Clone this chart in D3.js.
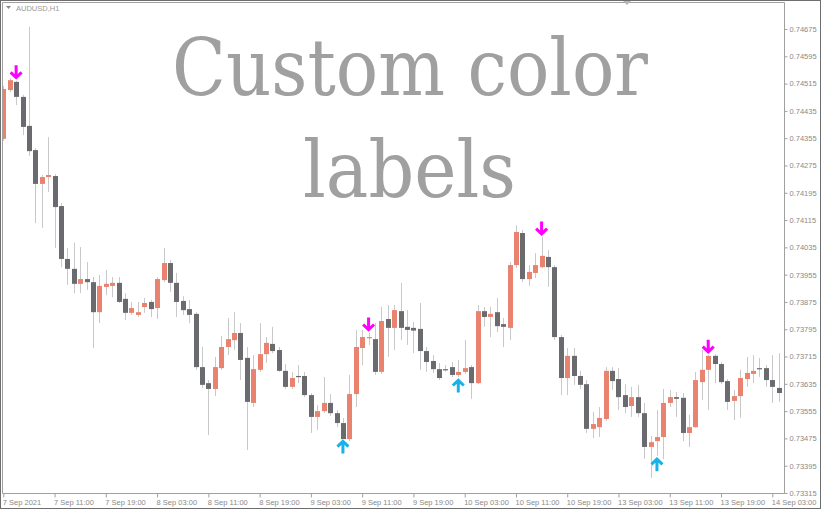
<!DOCTYPE html>
<html><head><meta charset="utf-8">
<script src="https://cdn.jsdelivr.net/npm/d3@7"></script>
<style>body{margin:0;background:#fff}svg{display:block}</style>
</head><body><svg id="c" width="821" height="509"></svg>
<script>
const symbol = "AUDUSD,H1";
const titleLines = ["Custom color", "labels"];
const xTickIndex = [0,8,16,24,32,40,48,56,64,72,80,88,96,104,112,120];
const xTickLabels = ["7 Sep 2021","7 Sep 11:00","7 Sep 19:00","8 Sep 03:00","8 Sep 11:00","8 Sep 19:00","9 Sep 03:00","9 Sep 11:00","9 Sep 19:00","10 Sep 03:00","10 Sep 11:00","10 Sep 19:00","13 Sep 03:00","13 Sep 11:00","13 Sep 19:00","14 Sep 03:00"];
const yTicks = [0.74675,0.74595,0.74515,0.74435,0.74355,0.74275,0.74195,0.74115,0.74035,0.73955,0.73875,0.73795,0.73715,0.73635,0.73555,0.73475,0.73395,0.73315];

const open = [0.74353,0.74496,0.74520,0.74476,0.74391,0.74320,0.74221,0.74241,0.74244,0.74156,
0.74001,0.73972,0.73928,0.73942,0.73933,0.73845,0.73919,0.73922,0.73931,0.73884,
0.73843,0.73837,0.73860,0.73875,0.73857,0.73939,0.73989,0.73931,0.73878,0.73854,
0.73840,0.73684,0.73637,0.73620,0.73681,0.73743,0.73763,0.73784,0.73711,0.73579,
0.73676,0.73722,0.73752,0.73734,0.73673,0.73626,0.73658,0.73658,0.73602,0.73538,
0.73555,0.73579,0.73549,0.73520,0.73473,0.73605,0.73740,0.73769,0.73766,0.73670,
0.73825,0.73799,0.73848,0.73802,0.73799,0.73796,0.73731,0.73702,0.73678,0.73678,
0.73684,0.73661,0.73670,0.73684,0.73637,0.73848,0.73831,0.73845,0.73810,0.73799,
0.73983,0.74077,0.73942,0.73960,0.73977,0.74007,0.73977,0.73772,0.73652,0.73717,
0.73658,0.73634,0.73503,0.73508,0.73532,0.73673,0.73649,0.73602,0.73570,0.73596,
0.73549,0.73450,0.73467,0.73479,0.73579,0.73596,0.73594,0.73491,0.73508,0.73640,
0.73676,0.73717,0.73693,0.73643,0.73585,0.73599,0.73649,0.73664,0.73681,0.73681,
0.73646,0.73623];
const high = [0.74508,0.74531,0.74523,0.74482,0.74681,0.74326,0.74247,0.74358,0.74250,0.74165,
0.74033,0.74048,0.74036,0.73992,0.73948,0.73954,0.73969,0.73948,0.73948,0.73901,
0.73875,0.73875,0.73887,0.73881,0.73948,0.74033,0.73998,0.73960,0.73892,0.73881,
0.73845,0.73743,0.73646,0.73714,0.73775,0.73828,0.73845,0.73813,0.73743,0.73719,
0.73813,0.73772,0.73802,0.73743,0.73693,0.73670,0.73690,0.73670,0.73608,0.73573,
0.73655,0.73605,0.73558,0.73535,0.73661,0.73793,0.73793,0.73784,0.73813,0.73860,
0.73866,0.73866,0.73931,0.73851,0.73816,0.73872,0.73743,0.73719,0.73696,0.73690,
0.73699,0.73705,0.73763,0.73690,0.73866,0.73860,0.73860,0.73887,0.73828,0.73992,
0.74100,0.74086,0.73983,0.74018,0.74065,0.74027,0.73983,0.73778,0.73740,0.73740,
0.73673,0.73646,0.73552,0.73567,0.73684,0.73684,0.73681,0.73634,0.73626,0.73632,
0.73579,0.73482,0.73558,0.73620,0.73617,0.73611,0.73608,0.73544,0.73670,0.73734,
0.73719,0.73722,0.73699,0.73649,0.73617,0.73676,0.73714,0.73719,0.73711,0.73690,
0.73719,0.73725];
const low = [0.74347,0.74490,0.74452,0.74364,0.74303,0.74106,0.74092,0.74197,0.74033,0.73977,
0.73925,0.73901,0.73901,0.73910,0.73740,0.73813,0.73895,0.73889,0.73872,0.73822,
0.73837,0.73831,0.73843,0.73831,0.73825,0.73933,0.73904,0.73831,0.73837,0.73813,
0.73676,0.73623,0.73485,0.73599,0.73676,0.73719,0.73734,0.73646,0.73441,0.73567,
0.73670,0.73696,0.73725,0.73670,0.73620,0.73620,0.73637,0.73596,0.73491,0.73500,
0.73549,0.73541,0.73508,0.73476,0.73467,0.73567,0.73690,0.73749,0.73661,0.73664,
0.73714,0.73734,0.73763,0.73749,0.73725,0.73676,0.73670,0.73667,0.73646,0.73670,
0.73655,0.73655,0.73664,0.73591,0.73634,0.73802,0.73772,0.73787,0.73743,0.73763,
0.73974,0.73933,0.73922,0.73945,0.73974,0.73919,0.73763,0.73602,0.73602,0.73632,
0.73620,0.73491,0.73476,0.73479,0.73526,0.73617,0.73558,0.73549,0.73538,0.73538,
0.73415,0.73359,0.73424,0.73415,0.73567,0.73538,0.73467,0.73450,0.73506,0.73588,
0.73558,0.73637,0.73634,0.73558,0.73529,0.73535,0.73626,0.73637,0.73655,0.73626,
0.73579,0.73582];
const close = [0.74499,0.74525,0.74476,0.74388,0.74317,0.74221,0.74241,0.74247,0.74153,0.74001,
0.73972,0.73928,0.73942,0.73933,0.73845,0.73922,0.73928,0.73931,0.73875,0.73843,
0.73857,0.73845,0.73872,0.73854,0.73942,0.73989,0.73931,0.73875,0.73851,0.73837,
0.73684,0.73632,0.73620,0.73684,0.73743,0.73766,0.73784,0.73705,0.73582,0.73678,
0.73722,0.73755,0.73731,0.73673,0.73626,0.73652,0.73655,0.73602,0.73538,0.73555,
0.73579,0.73549,0.73520,0.73473,0.73605,0.73743,0.73772,0.73772,0.73670,0.73819,
0.73799,0.73851,0.73799,0.73793,0.73791,0.73731,0.73699,0.73678,0.73652,0.73676,
0.73661,0.73670,0.73681,0.73637,0.73848,0.73831,0.73840,0.73804,0.73802,0.73983,
0.74080,0.73942,0.73963,0.73983,0.74010,0.73977,0.73772,0.73652,0.73717,0.73658,
0.73632,0.73503,0.73517,0.73535,0.73673,0.73643,0.73596,0.73567,0.73596,0.73549,
0.73450,0.73464,0.73479,0.73579,0.73596,0.73591,0.73491,0.73508,0.73646,0.73676,
0.73717,0.73693,0.73640,0.73582,0.73599,0.73652,0.73667,0.73673,0.73678,0.73646,
0.73626,0.73608];
const downSignals = [2, 57, 84, 110];
const upSignals = [53, 71, 102];

const svg = d3.select("#c");
const plot = {left: 2, right: 784, top: 2.5, bottom: 493};
const x = d3.scaleLinear().domain([0, 121]).range([3.3, 778.7]);
const y = d3.scaleLinear().domain([0.73315, 0.74675]).range([493, 29]);
const BULL = "#e9826f", BEAR = "#696b6f", WICK = "#c9c9c9";

svg.append("rect").attr("x",0).attr("y",0).attr("width",821).attr("height",509).attr("fill","#fff");
svg.append("defs").append("clipPath").attr("id","pc").append("rect")
  .attr("x",plot.left+1).attr("y",plot.top).attr("width",plot.right-plot.left-1).attr("height",plot.bottom-plot.top);

// Title
const title = svg.append("g").attr("font-family","'DejaVu Serif', serif").attr("fill","#a0a0a0").attr("font-size",78);
title.append("text").attr("x",172).attr("y",95).attr("textLength",476).attr("lengthAdjust","spacingAndGlyphs").text(titleLines[0]);
title.append("text").attr("x",303).attr("y",197).attr("textLength",213).attr("lengthAdjust","spacingAndGlyphs").text(titleLines[1]);

const data = open.map((o,i)=>({i, o, h: high[i], l: low[i], c: close[i]}));
const g = svg.append("g").attr("clip-path","url(#pc)");
g.selectAll("line.w").data(data).join("line").attr("class","w")
  .attr("x1",d=>Math.round(x(d.i))+0.5).attr("x2",d=>Math.round(x(d.i))+0.5)
  .attr("y1",d=>y(d.h)).attr("y2",d=>y(d.l)).attr("stroke",WICK).attr("stroke-width",1);
g.selectAll("rect.b").data(data).join("rect").attr("class","b")
  .attr("x",d=>Math.round(x(d.i))-2).attr("width",5)
  .attr("y",d=>y(Math.max(d.o,d.c)))
  .attr("height",d=>Math.max(1.2, Math.abs(y(d.o)-y(d.c))))
  .attr("fill",d=>d.c>=d.o?BULL:BEAR);

// signal arrows
function arrowPath(cx, tip, dir){ // dir=1 down arrow (tip at bottom), -1 up
  const top = tip - dir*14;
  return `M${cx},${top}L${cx},${tip - dir*2}M${cx-5.5},${tip - dir*7}L${cx},${tip - dir*1.8}L${cx+5.5},${tip - dir*7}`;
}
svg.append("g").selectAll("path").data(downSignals).join("path")
  .attr("d",i=>arrowPath(x(i), y(high[i]) - 1.5, 1))
  .attr("fill","none").attr("stroke","#ff00ff").attr("stroke-width",3).attr("stroke-linejoin","miter");
svg.append("g").selectAll("path").data(upSignals).join("path")
  .attr("d",i=>arrowPath(x(i), y(low[i]) + 1.5, -1))
  .attr("fill","none").attr("stroke","#19b2e8").attr("stroke-width",3).attr("stroke-linejoin","miter");

// frame
svg.append("rect").attr("x",0.5).attr("y",0.5).attr("width",820).attr("height",508).attr("fill","none").attr("stroke","#6e6e6e");
svg.append("path").attr("d",`M${plot.left+0.5},${plot.bottom+0.5}V${plot.top}H${plot.right+0.5}V${plot.bottom+0.5}H${plot.left+0.5}`)
  .attr("fill","none").attr("stroke","#a0a0a0");

// axes
const fontF = "'Liberation Sans', Arial, sans-serif";
const ya = svg.append("g").attr("transform",`translate(${plot.right+0.5},0)`)
  .call(d3.axisRight(y).tickValues(yTicks).tickSize(3).tickPadding(2).tickFormat(d3.format(".5f")));
ya.select(".domain").remove();
ya.selectAll("line").attr("stroke","#a0a0a0");
ya.selectAll("text").attr("fill","#8a8a8a").attr("font-size",7.5).attr("font-family",fontF);

const xa = svg.append("g").attr("transform",`translate(0,${plot.bottom+0.5})`)
  .call(d3.axisBottom(x).tickValues(xTickIndex).tickSize(4).tickFormat((d,k)=>xTickLabels[k]));
xa.select(".domain").remove();
xa.selectAll("line").attr("stroke","#a0a0a0");
xa.selectAll("text").attr("fill","#8a8a8a").attr("font-size",7.5).attr("font-family",fontF)
  .attr("text-anchor","start").attr("dx",-1).attr("y",6);

// symbol label
svg.append("path").attr("d","M6,6L11,6L8.5,9Z").attr("fill","#888");
svg.append("text").attr("x",16).attr("y",11).attr("font-size",7.5).attr("font-family",fontF).attr("fill","#999").text(symbol);
// chart shift marker
svg.append("path").attr("d","M623,1L631,1L627,5Z").attr("fill","#b5b5b5");
</script></body></html>
